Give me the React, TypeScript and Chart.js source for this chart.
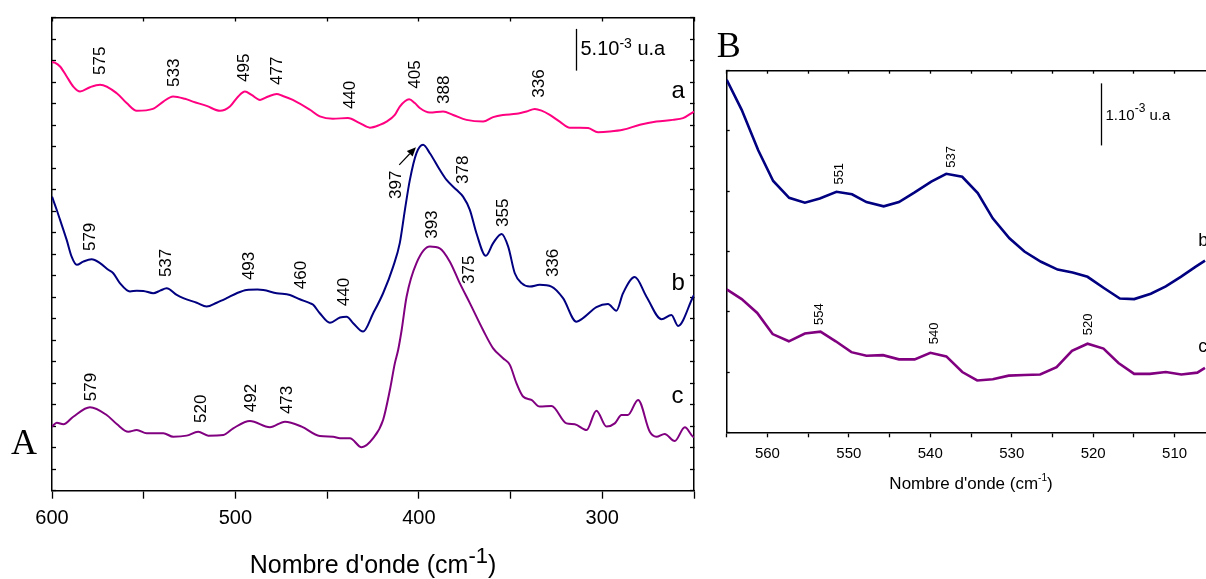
import React, { useEffect, useRef } from 'react';
import { Chart, registerables } from 'chart.js';

Chart.register(...registerables);

const SANS = "'Liberation Sans', Arial, sans-serif";
const SERIF = "'Liberation Serif', 'Times New Roman', serif";

// ---------- Panel A data (wavenumber cm-1, absorbance in arbitrary offset units) ----------
const aWave = [600, 598.5, 595.6, 592, 588.4, 584.7, 579.3, 573.8, 564.7, 559.3, 553.8, 545, 539.3, 534, 527.5, 523.2, 515.7, 508.4, 503, 498.5, 494.8, 491.2, 486.6, 482.1, 477.5, 474.4, 468.7, 459.4, 454, 446.9, 438.7, 432.2, 426.7, 421.3, 417.6, 413.1, 410.4, 405.3, 402.2, 399.5, 394, 386.8, 381.3, 374, 365, 359.5, 354.2, 346.8, 341.3, 336.8, 333.1, 328.6, 323.2, 317.7, 312.3, 307.7, 302.3, 295.9, 288.8, 279.5, 270.5, 261.6, 256, 250];
const aAbs = [19.93, 19.9, 19.72, 19.26, 18.79, 18.56, 18.76, 18.87, 18.48, 18.02, 17.66, 17.75, 18.09, 18.33, 18.22, 18.09, 17.89, 17.66, 17.86, 18.33, 18.56, 18.4, 18.17, 18.33, 18.44, 18.36, 18.17, 17.71, 17.4, 17.29, 17.33, 17.09, 16.88, 17.01, 17.16, 17.47, 17.86, 18.2, 18.02, 17.79, 17.58, 17.63, 17.47, 17.24, 17.16, 17.37, 17.47, 17.52, 17.63, 17.75, 17.67, 17.47, 17.16, 16.88, 16.88, 16.86, 16.67, 16.7, 16.78, 17.01, 17.16, 17.24, 17.32, 17.63];

const bWave = [600, 597.4, 595.6, 592, 589.3, 586.5, 583, 578.4, 573.8, 569.3, 566.6, 563, 557.5, 553.8, 550.2, 544.8, 541.1, 537.5, 532, 528.4, 521.1, 515.7, 510.2, 504.8, 499.3, 493.9, 488, 484.8, 477.5, 470.3, 464.9, 459.4, 457.6, 454, 448.5, 443, 439.4, 435.8, 430.4, 424.9, 419.5, 414, 410.4, 407.6, 404.9, 401.3, 397.7, 394, 388.6, 384.9, 379.5, 375.9, 372.2, 368.6, 363.5, 359.5, 354.9, 351.3, 347.7, 344, 339.5, 334.1, 327.7, 321.4, 314.1, 310.5, 303.2, 296.9, 292.3, 288.7, 282.3, 275.9, 267.7, 262.3, 258.7, 250.5, 250];
const bAbs = [13.67, 13.05, 12.59, 11.66, 10.88, 10.5, 10.65, 10.76, 10.58, 10.27, 10.11, 9.65, 9.26, 9.3, 9.29, 9.18, 9.3, 9.41, 9.1, 8.95, 8.74, 8.56, 8.74, 8.95, 9.18, 9.33, 9.35, 9.33, 9.18, 9.1, 8.9, 8.72, 8.64, 8.25, 7.81, 8.05, 8.09, 7.79, 7.4, 8.25, 9.18, 10.42, 11.51, 13.06, 14.45, 15.69, 16.08, 15.69, 14.92, 14.45, 13.99, 13.67, 13.06, 11.97, 10.92, 11.51, 11.94, 11.35, 10.11, 9.65, 9.49, 9.57, 9.49, 8.95, 7.86, 8.02, 8.53, 8.68, 8.37, 9.18, 9.93, 9.02, 7.97, 8.17, 7.66, 9.02, 9.1];

const cWave = [600, 597.4, 593.8, 588.4, 579.3, 570.2, 564.7, 558.4, 553.8, 548.4, 539.3, 533.9, 526.6, 520.3, 514.8, 506.6, 501.2, 492.1, 481.2, 473, 463.9, 454, 446.7, 443, 437.6, 431.2, 424.9, 419.5, 415.8, 413.1, 411.3, 409.4, 406.7, 401.3, 394, 388.6, 383.1, 377.7, 372.2, 365, 359.5, 354.1, 350.4, 346.8, 343.2, 338.6, 334.1, 327.7, 319.5, 315, 308.6, 303.2, 297.7, 293.2, 289.5, 286, 280.5, 274.1, 270.5, 266, 260.5, 255, 250.5, 250];
const cAbs = [2.98, 3.16, 3.09, 3.44, 3.88, 3.52, 3.1, 2.74, 2.82, 2.67, 2.67, 2.51, 2.56, 2.74, 2.56, 2.59, 2.9, 3.24, 2.95, 3.21, 2.98, 2.54, 2.51, 2.44, 2.44, 2.02, 2.44, 3.29, 4.68, 5.92, 6.54, 7.46, 9.02, 10.58, 11.35, 11.27, 10.65, 9.65, 8.72, 7.47, 6.62, 6.16, 5.85, 5.0, 4.38, 4.22, 3.91, 3.94, 3.13, 3.09, 2.82, 3.72, 2.98, 3.13, 3.52, 3.52, 4.22, 2.74, 2.51, 2.64, 2.31, 2.95, 2.51, 2.5];

// ---------- Panel B data ----------
const bWaveB = [565, 563.16, 561.13, 559.29, 557.33, 555.4, 553.57, 551.52, 549.61, 547.84, 545.72, 543.85, 541.92, 539.88, 538.04, 536.08, 534.17, 532.33, 530.28, 528.44, 526.4, 524.36, 522.52, 520.69, 518.64, 516.72, 514.96, 512.92, 511.08, 509.24, 507.4, 506.26];
const bAbsB = [5.85, 5.35, 4.68, 4.17, 3.89, 3.81, 3.88, 3.99, 3.95, 3.82, 3.75, 3.82, 3.98, 4.16, 4.29, 4.24, 3.97, 3.55, 3.22, 3.0, 2.83, 2.7, 2.65, 2.58, 2.39, 2.22, 2.21, 2.3, 2.42, 2.58, 2.75, 2.85];
const cWaveB = [565, 563.16, 561.25, 559.36, 557.37, 555.4, 553.48, 551.61, 549.69, 547.84, 545.81, 543.85, 541.92, 539.99, 538.03, 536.07, 534.24, 532.33, 530.37, 528.44, 526.51, 524.49, 522.6, 520.69, 518.73, 516.89, 514.96, 513.04, 511.08, 509.17, 507.21, 506.27];
const cAbsB = [2.37, 2.21, 1.98, 1.63, 1.51, 1.64, 1.67, 1.51, 1.33, 1.27, 1.28, 1.21, 1.21, 1.32, 1.26, 1.0, 0.86, 0.88, 0.94, 0.95, 0.96, 1.08, 1.35, 1.47, 1.39, 1.15, 0.97, 0.97, 1.0, 0.96, 0.99, 1.07];

// ---------- Annotations (anchored in data coordinates) ----------
const peaksA = [
  { t: '575', x: 573.8, y: 19.99 }, { t: '533', x: 533.5, y: 19.43 }, { t: '495', x: 495.4, y: 19.66 },
  { t: '477', x: 477.4, y: 19.52 }, { t: '440', x: 437.2, y: 18.4 }, { t: '405', x: 402.2, y: 19.35 },
  { t: '388', x: 386.2, y: 18.64 }, { t: '336', x: 334.1, y: 18.93 },
  { t: '579', x: 579.3, y: 11.8 }, { t: '537', x: 537.5, y: 10.59 }, { t: '493', x: 492.5, y: 10.45 },
  { t: '460', x: 463.9, y: 10.03 }, { t: '440', x: 440.7, y: 9.24 }, { t: '397', x: 412.2, y: 14.22 },
  { t: '378', x: 375.9, y: 14.92 }, { t: '355', x: 353.7, y: 12.92 }, { t: '393', x: 392.5, y: 12.37 },
  { t: '375', x: 372.6, y: 10.27 }, { t: '336', x: 326.8, y: 10.59 },
  { t: '579', x: 578.4, y: 4.82 }, { t: '520', x: 518.4, y: 3.81 }, { t: '492', x: 491.6, y: 4.31 },
  { t: '473', x: 471.8, y: 4.22 },
];
const seriesLabelsA = [{ t: 'a', x: 262.3, y: 18.25 }, { t: 'b', x: 262.3, y: 9.33 }, { t: 'c', x: 262.3, y: 4.07 }];
const scaleBarA = { x: 314.6, y0: 19.53, y1: 21.47, textY: 20.27, main: '5.10', sup: '-3', tail: ' u.a' };
const arrowA = { x0: 410.7, y0: 15.15, x1: 401.6, y1: 15.97 };

const peaksB = [
  { t: '551', x: 551.1, y: 4.29 }, { t: '537', x: 537.4, y: 4.57 },
  { t: '554', x: 553.6, y: 1.96 }, { t: '540', x: 539.5, y: 1.64 }, { t: '520', x: 520.6, y: 1.79 },
];
const seriesLabelsB = [{ t: 'b', x: 507.1, y: 3.09 }, { t: 'c', x: 507.1, y: 1.34 }];
const scaleBarB = { x: 519.0, y0: 4.76, y1: 5.79, textY: 5.18, main: '1.10', sup: '-3', tail: ' u.a' };

const NAVY = '#000080';
const PURPLE = '#800080';
const PINK = '#FF0080';

function toPts(xs: number[], ys: number[]) {
  return xs.map((x, i) => ({ x, y: ys[i] }));
}

type Cfg = {
  peaks: { t: string; x: number; y: number }[];
  peakSize: number;
  letters: { t: string; x: number; y: number }[];
  letterSize: number;
  bar: { x: number; y0: number; y1: number; textY: number; main: string; sup: string; tail: string };
  barFont: number; barSup: number; barRaise: number; barGap: number;
  arrow?: { x0: number; y0: number; x1: number; y1: number };
  panel: string; panelDx: number; panelY: number;
  title: { size: number; sup: number; raise: number; baseline: number };
};

function drawSup(ctx: CanvasRenderingContext2D, x: number, y: number, main: string, sup: string, tail: string, fs: number, ss: number, raise: number) {
  ctx.textAlign = 'left';
  ctx.textBaseline = 'alphabetic';
  ctx.font = `${fs}px ${SANS}`;
  ctx.fillText(main, x, y);
  let cx = x + ctx.measureText(main).width;
  ctx.font = `${ss}px ${SANS}`;
  ctx.fillText(sup, cx, y - raise);
  cx += ctx.measureText(sup).width;
  ctx.font = `${fs}px ${SANS}`;
  ctx.fillText(tail, cx, y);
  return cx + ctx.measureText(tail).width - x;
}

function makePlugin(cfg: Cfg) {
  return {
    id: 'annotations',
    afterDraw(chart: any) {
      const { ctx, chartArea } = chart;
      const xs = chart.scales.x;
      const ys = chart.scales.y;
      ctx.save();
      ctx.fillStyle = '#000';
      ctx.strokeStyle = '#000';
      // rotated peak labels
      ctx.font = `${cfg.peakSize}px ${SANS}`;
      ctx.textAlign = 'center';
      ctx.textBaseline = 'middle';
      for (const p of cfg.peaks) {
        const px = xs.getPixelForValue(p.x);
        const py = ys.getPixelForValue(p.y);
        ctx.save();
        ctx.translate(px, py);
        ctx.rotate(-Math.PI / 2);
        ctx.fillText(p.t, 0, 0);
        ctx.restore();
      }
      // series letters
      ctx.font = `${cfg.letterSize}px ${SANS}`;
      ctx.textAlign = 'left';
      ctx.textBaseline = 'alphabetic';
      for (const l of cfg.letters) {
        ctx.fillText(l.t, xs.getPixelForValue(l.x), ys.getPixelForValue(l.y));
      }
      // scale bar
      const bx = Math.round(xs.getPixelForValue(cfg.bar.x)) + 0.5;
      ctx.lineWidth = 1.3;
      ctx.beginPath();
      ctx.moveTo(bx, ys.getPixelForValue(cfg.bar.y0));
      ctx.lineTo(bx, ys.getPixelForValue(cfg.bar.y1));
      ctx.stroke();
      drawSup(ctx, bx + cfg.barGap, ys.getPixelForValue(cfg.bar.textY), cfg.bar.main, cfg.bar.sup, cfg.bar.tail, cfg.barFont, cfg.barSup, cfg.barRaise);
      // arrow
      if (cfg.arrow) {
        const x0 = xs.getPixelForValue(cfg.arrow.x0), y0 = ys.getPixelForValue(cfg.arrow.y0);
        const x1 = xs.getPixelForValue(cfg.arrow.x1), y1 = ys.getPixelForValue(cfg.arrow.y1);
        const ang = Math.atan2(y1 - y0, x1 - x0);
        const hl = 9, hw = 4;
        const bxp = x1 - hl * Math.cos(ang), byp = y1 - hl * Math.sin(ang);
        ctx.lineWidth = 1.2;
        ctx.beginPath();
        ctx.moveTo(x0, y0);
        ctx.lineTo(bxp, byp);
        ctx.stroke();
        ctx.beginPath();
        ctx.moveTo(x1, y1);
        ctx.lineTo(bxp + hw * Math.sin(ang), byp - hw * Math.cos(ang));
        ctx.lineTo(bxp - hw * Math.sin(ang), byp + hw * Math.cos(ang));
        ctx.closePath();
        ctx.fill();
      }
      // panel letter
      ctx.font = `36px ${SERIF}`;
      ctx.textAlign = 'left';
      ctx.textBaseline = 'alphabetic';
      ctx.fillText(cfg.panel, chartArea.left + cfg.panelDx, cfg.panelY);
      // x axis title with superscript
      const t = cfg.title;
      ctx.font = `${t.size}px ${SANS}`;
      const w1 = ctx.measureText("Nombre d'onde (cm").width;
      const w3 = ctx.measureText(')').width;
      ctx.font = `${t.sup}px ${SANS}`;
      const w2 = ctx.measureText('-1').width;
      const total = w1 + w2 + w3;
      const cx = (chartArea.left + chartArea.right) / 2 - total / 2;
      drawSup(ctx, cx, t.baseline, "Nombre d'onde (cm", '-1', ')', t.size, t.sup, t.raise);
      ctx.restore();
    },
  };
}

function axisBorder() {
  return { display: true, color: '#000', width: 1.5 };
}

function buildOptions(p: {
  xmin: number; xmax: number; xstep: number; labelEvery: number; ymax: number;
  left: number; right: number; top: number; bottom: number;
  tickFont: number; tickPad: number; outTick: number; inTick: number;
}) {
  const inner = (len: number) => ({ drawOnChartArea: false, drawTicks: true, tickLength: -len, tickColor: '#000', tickWidth: 1.3, color: '#000' });
  return {
    responsive: false,
    animation: false as const,
    events: [],
    layout: { padding: 0, autoPadding: false },
    plugins: { legend: { display: false }, tooltip: { enabled: false }, title: { display: false } },
    elements: { point: { radius: 0 } },
    scales: {
      x: {
        type: 'linear', position: 'bottom', reverse: true, min: p.xmin, max: p.xmax,
        ticks: {
          stepSize: p.xstep, autoSkip: false, maxRotation: 0, color: '#000', padding: p.tickPad,
          font: { family: SANS, size: p.tickFont },
          callback: (v: number) => (Math.round(v) % p.labelEvery === 0 ? String(v) : ''),
        },
        grid: { drawOnChartArea: false, drawTicks: true, tickLength: p.outTick, tickColor: '#000', tickWidth: 1.3, color: '#000' },
        border: axisBorder(),
        afterFit: (s: any) => { s.height = p.bottom; },
      },
      xTop: {
        type: 'linear', position: 'top', reverse: true, min: p.xmin, max: p.xmax,
        ticks: { stepSize: p.xstep, display: false },
        grid: inner(p.inTick),
        border: axisBorder(),
        afterFit: (s: any) => { s.height = p.top; },
      },
      y: {
        type: 'linear', position: 'left', min: 0, max: p.ymax,
        ticks: { stepSize: 1, display: false },
        grid: inner(p.inTick),
        border: axisBorder(),
        afterFit: (s: any) => { s.width = p.left; },
      },
      yRight: {
        type: 'linear', position: 'right', min: 0, max: p.ymax,
        ticks: { stepSize: 1, display: false },
        grid: inner(p.inTick),
        border: axisBorder(),
        afterFit: (s: any) => { s.width = p.right; },
      },
    },
  };
}

function PanelA() {
  const ref = useRef<HTMLCanvasElement>(null);
  useEffect(() => {
    if (!ref.current) return;
    const ds = (xs: number[], ys: number[], color: string) => ({
      data: toPts(xs, ys), borderColor: color, borderWidth: 2, pointRadius: 0,
      cubicInterpolationMode: 'monotone' as const, fill: false,
    });
    const chart = new Chart(ref.current, {
      type: 'line',
      data: { datasets: [ds(aWave, aAbs, PINK), ds(bWave, bAbs, NAVY), ds(cWave, cAbs, PURPLE)] },
      options: buildOptions({
        xmin: 250, xmax: 600, xstep: 50, labelEvery: 100, ymax: 22,
        left: 52, right: 10, top: 17.5, bottom: 88.3,
        tickFont: 20, tickPad: 8, outTick: 8, inTick: 4,
      }) as any,
      plugins: [makePlugin({
        peaks: peaksA, peakSize: 17, letters: seriesLabelsA, letterSize: 24,
        bar: scaleBarA, barFont: 20, barSup: 14, barRaise: 7, barGap: 4,
        arrow: arrowA, panel: 'A', panelDx: -41, panelY: 454,
        title: { size: 25, sup: 22, raise: 10, baseline: 573 },
      })],
    });
    return () => chart.destroy();
  }, []);
  return <canvas ref={ref} width={704} height={579} style={{ display: 'block' }} />;
}

function PanelB() {
  const ref = useRef<HTMLCanvasElement>(null);
  useEffect(() => {
    if (!ref.current) return;
    const ds = (xs: number[], ys: number[], color: string) => ({
      data: toPts(xs, ys), borderColor: color, borderWidth: 2.6, pointRadius: 0,
      tension: 0, fill: false,
    });
    const chart = new Chart(ref.current, {
      type: 'line',
      data: { datasets: [ds(bWaveB, bAbsB, NAVY), ds(cWaveB, cAbsB, PURPLE)] },
      options: buildOptions({
        xmin: 505, xmax: 565, xstep: 5, labelEvery: 10, ymax: 6,
        left: 26.7, right: 14.7, top: 70.7, bottom: 146.7,
        tickFont: 15, tickPad: 8, outTick: 5, inTick: 3,
      }) as any,
      plugins: [makePlugin({
        peaks: peaksB, peakSize: 13, letters: seriesLabelsB, letterSize: 18,
        bar: scaleBarB, barFont: 15, barSup: 12, barRaise: 8, barGap: 4,
        panel: 'B', panelDx: -10, panelY: 57,
        title: { size: 17, sup: 10, raise: 8, baseline: 489 },
      })],
    });
    return () => chart.destroy();
  }, []);
  return <canvas ref={ref} width={530} height={579} style={{ display: 'block' }} />;
}

export default function App() {
  return (
    <div style={{ position: 'fixed', left: 0, top: 0, width: 1206, height: 579, overflow: 'hidden', background: '#fff' }}>
      <div style={{ position: 'absolute', left: 0, top: 0 }}>
        <PanelA />
      </div>
      <div style={{ position: 'absolute', left: 700, top: 0 }}>
        <PanelB />
      </div>
    </div>
  );
}
